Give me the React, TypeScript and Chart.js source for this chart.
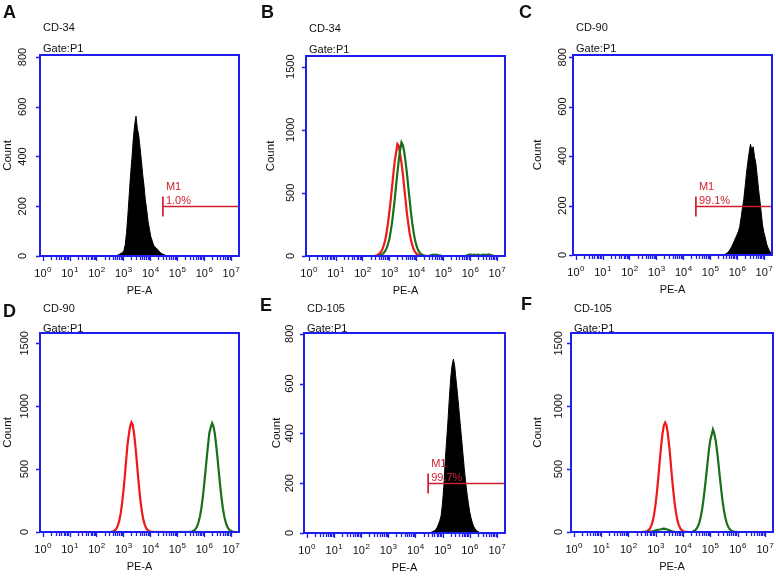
import React, { useEffect, useRef } from "react";
import { Chart, registerables } from "chart.js";

Chart.register(...registerables);

// ---------- data ----------
const BIN = 0.05; // histogram channel width, in decades of PE-A
const xDecades = [0, 1, 2, 3, 4, 5, 6, 7];
const countTicks800 = [0, 200, 400, 600, 800];
const countTicks1500 = [0, 500, 1000, 1500];
const gateStart = 4.47; // log10 PE-A where M1 begins
const gateCount = 200;
const xAxisLabel = "PE-A";
const yAxisLabel = "Count";
const gateName = "M1";

// A: CD-34 (single, filled)
const aStart = 2.72;
const aCounts = [0, 3, 5, 8, 11, 14, 22, 45, 95, 168, 248, 330, 395, 472, 528, 562, 512, 486, 436, 384, 326, 280, 222, 184, 138, 108, 78, 62, 44, 37, 31, 27, 19, 15, 10, 7, 5, 3, 0];

// B: CD-34 overlay (red = control, green = stained)
const bRedStart = 2.4;
const bRedCounts = [0, 1, 4, 8, 14, 22, 36, 58, 90, 128, 190, 262, 350, 440, 548, 655, 752, 818, 887, 872, 806, 740, 655, 545, 448, 342, 262, 185, 128, 88, 55, 34, 21, 12, 7, 4, 2, 1, 0, 0, 1, 0, 0, 0];
const bGreenStart = 2.55;
const bGreenCounts = [0, 2, 5, 10, 16, 26, 42, 62, 95, 135, 195, 265, 355, 450, 560, 660, 760, 840, 900, 880, 830, 750, 660, 555, 450, 350, 262, 190, 130, 88, 56, 35, 22, 12, 7, 4, 2, 0,
  1, 3, 6, 9, 11, 8, 10, 7, 5, 3, 1, 0,
  0, 0, 0, 0, 0, 0, 0, 0, 0, 0, 0, 0, 0, 0, 0, 0,
  1, 6, 9, 12, 10, 8, 11, 9, 7, 10, 8, 6, 9, 11, 8, 10, 7, 12, 9, 6, 3, 1, 0];

// C: CD-90 (single, filled)
const cStart = 5.5;
const cCounts = [0, 3, 6, 10, 16, 24, 34, 45, 58, 70, 82, 95, 115, 150, 190, 225, 275, 330, 375, 415, 448, 425, 438, 398, 370, 320, 265, 220, 170, 120, 90, 70, 45, 30, 18, 10, 5];

// D: CD-90 overlay
const dRedStart = 2.5;
const dRedCounts = [0, 2, 4, 8, 16, 30, 55, 92, 148, 224, 321, 435, 559, 688, 770, 838, 872, 852, 779, 679, 559, 435, 321, 224, 148, 92, 55, 30, 16, 8, 4, 2, 1, 0, 1, 0, 1, 0, 0, 1, 0, 0];
const dGreenStart = 5.05;
const dGreenCounts = [0, 0, 1, 0, 0, 1, 0, 0, 1, 2, 4, 9, 15, 28, 49, 81, 126, 189, 270, 367, 476, 589, 695, 792, 832, 865, 840, 783, 695, 589, 476, 367, 270, 189, 126, 81, 49, 28, 15, 9, 4, 2, 0];

// E: CD-105 (single, filled)
const eStart = 4.5;
const eCounts = [0, 2, 4, 6, 9, 14, 22, 35, 50, 70, 120, 190, 290, 370, 450, 540, 620, 672, 698, 668, 612, 560, 500, 440, 380, 320, 260, 205, 160, 120, 85, 60, 40, 26, 16, 10, 6, 3, 0];

// F: CD-105 overlay
const fRedStart = 2.5;
const fRedCounts = [0, 1, 2, 4, 8, 16, 30, 55, 92, 148, 224, 321, 435, 559, 679, 779, 846, 870, 846, 779, 679, 559, 435, 321, 224, 148, 92, 55, 30, 16, 8, 4, 2, 1, 0, 0, 0, 0, 0, 0, 0];
const fGreenStart = 2.6;
const fGreenCounts = [0, 1, 1, 2, 3, 4, 6, 9, 12, 15, 18, 20, 22, 25, 26, 25, 22, 18, 14, 10, 6, 3, 1,
  0, 0, 0, 0, 0, 0, 0, 0, 0, 0, 0, 0, 0,
  8, 14, 26, 46, 75, 118, 176, 251, 342, 443, 548, 646, 728, 770, 815, 782, 728, 646, 548, 443, 342, 251, 176, 118, 75, 46, 26, 14, 8, 4, 2, 1, 0, 0];

// ---------- styling / layout ----------
const W = 776;
const H = 576;
const FONT = "'Liberation Sans', Arial, Helvetica, sans-serif";
const BLUE = "#1e1ef0";
const RED = "#f01818";
const GREEN = "#1a701a";
const GATE_RED = "#d0202e";
const X_MIN = -0.1;
const X_MAX = 7.3;

type Series = { start: number; counts: number[]; color: string; filled: boolean };
type PanelSpec = {
  letter: string;
  marker: string;
  box: [number, number, number, number];
  yMax: number;
  yTicks: number[];
  series: Series[];
  gatePct?: string;
  letterPos: [number, number];
  titleDy: number;
  gateTextDy: number;
  yLabelDx: number;
  countDx: number;
};

const panels: PanelSpec[] = [
  {
    letter: "A", marker: "CD-34", box: [40, 55, 239, 256], yMax: 808, yTicks: countTicks800,
    series: [{ start: aStart, counts: aCounts, color: "#000000", filled: true }],
    gatePct: "1.0%", letterPos: [3, 18], titleDy: 24, gateTextDy: 3, yLabelDx: 17, countDx: 32,
  },
  {
    letter: "B", marker: "CD-34", box: [306, 56, 505, 256], yMax: 1585, yTicks: countTicks1500,
    series: [
      { start: bGreenStart, counts: bGreenCounts, color: GREEN, filled: false },
      { start: bRedStart, counts: bRedCounts, color: RED, filled: false },
    ],
    letterPos: [261, 18], titleDy: 24, gateTextDy: 3, yLabelDx: 15, countDx: 35,
  },
  {
    letter: "C", marker: "CD-90", box: [573, 55, 772, 255], yMax: 809, yTicks: countTicks800,
    series: [{ start: cStart, counts: cCounts, color: "#000000", filled: true }],
    gatePct: "99.1%", letterPos: [519, 18], titleDy: 24, gateTextDy: 3, yLabelDx: 10, countDx: 35,
  },
  {
    letter: "D", marker: "CD-90", box: [40, 333, 239, 532], yMax: 1582, yTicks: countTicks1500,
    series: [
      { start: dGreenStart, counts: dGreenCounts, color: GREEN, filled: false },
      { start: dRedStart, counts: dRedCounts, color: RED, filled: false },
    ],
    letterPos: [3, 317], titleDy: 21, gateTextDy: 1, yLabelDx: 15, countDx: 32,
  },
  {
    letter: "E", marker: "CD-105", box: [304, 333, 505, 533], yMax: 803, yTicks: countTicks800,
    series: [{ start: eStart, counts: eCounts, color: "#000000", filled: true }],
    gatePct: "99.7%", letterPos: [260, 311], titleDy: 21, gateTextDy: 1, yLabelDx: 14, countDx: 27,
  },
  {
    letter: "F", marker: "CD-105", box: [571, 333, 773, 532], yMax: 1582, yTicks: countTicks1500,
    series: [
      { start: fGreenStart, counts: fGreenCounts, color: GREEN, filled: false },
      { start: fRedStart, counts: fRedCounts, color: RED, filled: false },
    ],
    letterPos: [521, 310], titleDy: 21, gateTextDy: 1, yLabelDx: 12, countDx: 33,
  },
];

function decorPlugin(spec: PanelSpec) {
  return {
    id: "decor" + spec.letter,
    afterDatasetsDraw(chart: any) {
      if (!spec.gatePct) return;
      const ctx = chart.ctx as CanvasRenderingContext2D;
      const xs = chart.scales.x;
      const ys = chart.scales.y;
      const gx = xs.getPixelForValue(gateStart);
      const gr = xs.getPixelForValue(X_MAX);
      const gy = Math.round(ys.getPixelForValue(gateCount)) + 0.5;
      ctx.save();
      ctx.strokeStyle = GATE_RED;
      ctx.lineWidth = 1.7;
      ctx.beginPath();
      ctx.moveTo(gx, gy);
      ctx.lineTo(gr, gy);
      ctx.moveTo(gx, gy - 10);
      ctx.lineTo(gx, gy + 10);
      ctx.moveTo(gr, gy - 10);
      ctx.lineTo(gr, gy + 10);
      ctx.stroke();
      ctx.fillStyle = GATE_RED;
      ctx.font = `11px ${FONT}`;
      ctx.textAlign = "left";
      ctx.textBaseline = "alphabetic";
      ctx.fillText(gateName, gx + 3, gy - 16.5);
      ctx.fillText(spec.gatePct, gx + 3, gy - 2.5);
      ctx.restore();
    },
    afterDraw(chart: any) {
      const ctx = chart.ctx as CanvasRenderingContext2D;
      const { left, top, right, bottom } = chart.chartArea;
      const xs = chart.scales.x;
      const ys = chart.scales.y;
      ctx.save();
      // frame
      ctx.strokeStyle = BLUE;
      ctx.lineWidth = 2;
      ctx.strokeRect(left, top, right - left, bottom - top);
      // x ticks (log minor ticks)
      ctx.lineWidth = 1.3;
      ctx.beginPath();
      for (const d of xDecades) {
        for (let m = 1; m <= 9; m++) {
          const v = d + Math.log10(m);
          if (v > X_MAX + 1e-6) break;
          const px = Math.round(xs.getPixelForValue(v)) + 0.5;
          const len = m === 1 ? 5 : 4;
          ctx.moveTo(px, bottom);
          ctx.lineTo(px, bottom + len);
        }
      }
      // y ticks
      for (const t of spec.yTicks) {
        const py = Math.round(ys.getPixelForValue(t)) + 0.5;
        ctx.moveTo(left - 4, py);
        ctx.lineTo(left, py);
      }
      ctx.stroke();

      ctx.fillStyle = "#111";
      // x tick labels 10^n
      const baseFont = `11px ${FONT}`;
      const expFont = `8px ${FONT}`;
      for (const d of xDecades) {
        const px = xs.getPixelForValue(d);
        ctx.font = baseFont;
        const wb = ctx.measureText("10").width;
        ctx.font = expFont;
        const we = ctx.measureText(String(d)).width;
        const x0 = px - (wb + we) / 2;
        ctx.textAlign = "left";
        ctx.textBaseline = "alphabetic";
        ctx.font = baseFont;
        ctx.fillText("10", x0, bottom + 21);
        ctx.font = expFont;
        ctx.fillText(String(d), x0 + wb + 0.5, bottom + 16);
      }
      // x title
      ctx.font = `11px ${FONT}`;
      ctx.textAlign = "center";
      ctx.fillText(xAxisLabel, (left + right) / 2, bottom + 38);
      // y tick labels (rotated)
      for (const t of spec.yTicks) {
        const py = ys.getPixelForValue(t);
        ctx.save();
        ctx.translate(left - spec.yLabelDx, py);
        ctx.rotate(-Math.PI / 2);
        ctx.font = `11px ${FONT}`;
        ctx.textAlign = "center";
        ctx.textBaseline = "middle";
        ctx.fillText(String(t), 0, 0);
        ctx.restore();
      }
      // y title
      ctx.save();
      ctx.translate(left - spec.countDx, (top + bottom) / 2);
      ctx.rotate(-Math.PI / 2);
      ctx.font = `11.5px ${FONT}`;
      ctx.textAlign = "center";
      ctx.textBaseline = "middle";
      ctx.fillText(yAxisLabel, 0, 0);
      ctx.restore();
      // panel letter + titles
      ctx.textAlign = "left";
      ctx.textBaseline = "alphabetic";
      ctx.font = `bold 18px ${FONT}`;
      ctx.fillText(spec.letter, spec.letterPos[0], spec.letterPos[1]);
      ctx.font = `11px ${FONT}`;
      ctx.fillText(spec.marker, left + 3, top - spec.titleDy);
      ctx.fillText("Gate:P1", left + 3, top - spec.gateTextDy);
      ctx.restore();
    },
  };
}

function Panel({ spec }: { spec: PanelSpec }) {
  const ref = useRef<HTMLCanvasElement>(null);
  useEffect(() => {
    const [l, t, r, b] = spec.box;
    const chart = new Chart(ref.current as HTMLCanvasElement, {
      type: "line",
      data: {
        datasets: spec.series.map((s) => ({
          data: s.counts.map((c, i) => ({ x: Number((s.start + i * BIN).toFixed(3)), y: c })),
          borderColor: s.color,
          backgroundColor: s.color,
          fill: s.filled ? "origin" : false,
          borderWidth: s.filled ? 1 : 2.2,
          pointRadius: 0,
          tension: 0,
        })),
      },
      options: {
        responsive: false,
        animation: false,
        devicePixelRatio: 1,
        events: [],
        layout: { padding: { left: l, top: t, right: W - r, bottom: H - b } },
        plugins: { legend: { display: false }, tooltip: { enabled: false }, title: { display: false } },
        scales: {
          x: { type: "linear", min: X_MIN, max: X_MAX, display: false },
          y: { type: "linear", min: 0, max: spec.yMax, display: false },
        },
      } as any,
      plugins: [decorPlugin(spec)],
    });
    return () => chart.destroy();
  }, [spec]);
  return (
    <canvas
      ref={ref}
      width={W}
      height={H}
      style={{ position: "absolute", left: 0, top: 0, width: W, height: H }}
    />
  );
}

export default function App() {
  return (
    <div style={{ position: "absolute", left: 0, top: 0, width: W, height: H, background: "#fff", overflow: "hidden" }}>
      {panels.map((p) => (
        <Panel key={p.letter} spec={p} />
      ))}
    </div>
  );
}
